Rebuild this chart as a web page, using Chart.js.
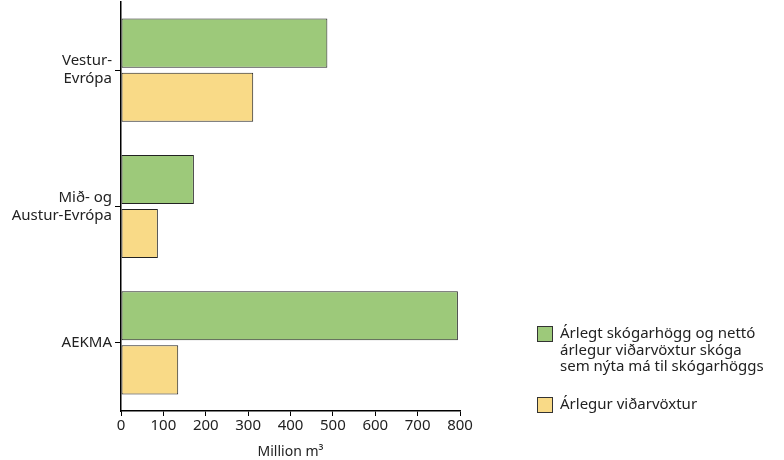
<!DOCTYPE html>
<html>
<head>
<meta charset="utf-8">
<script src="https://cdn.jsdelivr.net/npm/chart.js@4/dist/chart.umd.min.js"></script>
<style>
  body { margin: 0; background: #fff; }
  #wrap { position: relative; width: 784px; height: 460px; }
  #legend { position: absolute; left: 537px; top: 324px; font-family: "Noto Sans", sans-serif; font-size: 15px; color: #222; }
  .item { display: flex; align-items: flex-start; margin-bottom: 21px; }
  .box { width: 16px; height: 16px; border: 1px solid #333; margin-right: 7px; margin-top: 2px; flex: none; box-sizing: border-box; }
  .txt { line-height: 16.5px; }
</style>
</head>
<body>
<div id="wrap">
  <canvas id="myChart" width="784" height="460"></canvas>
  <div id="legend"></div>
</div>
<script>
const categories = [["Vestur-", "Evrópa"], ["Mið- og", "Austur-Evrópa"], "AEKMA"];
const fellings = [487, 172, 795];
const increment = [312, 87, 135];
const seriesNames = [
    ["Árlegt skógarhögg og nettó", "árlegur viðarvöxtur skóga", "sem nýta má til skógarhöggs"],
    ["Árlegur viðarvöxtur"]
];
const xTicks = [0, 100, 200, 300, 400, 500, 600, 700, 800];

const green = '#9dc97a';
const yellow = '#f9da87';

const font = { family: '"Noto Sans", sans-serif', size: 15 };

const data = {
    labels: categories,
    datasets: [{
        label: seriesNames[0].join(' '),
        data: fellings,
        backgroundColor: green,
        borderColor: '#222',
        borderWidth: 1,
        borderSkipped: false,
        categoryPercentage: 0.794,
        barPercentage: 0.907
    }, {
        label: seriesNames[1].join(' '),
        data: increment,
        backgroundColor: yellow,
        borderColor: '#222',
        borderWidth: 1,
        borderSkipped: false,
        categoryPercentage: 0.794,
        barPercentage: 0.907
    }]
};

const ctx = document.getElementById('myChart').getContext('2d');
const myChart = new Chart(ctx, {
    type: 'bar',
    data: data,
    options: {
        indexAxis: 'y',
        responsive: false,
        animation: false,
        layout: { padding: { top: 2, right: 324, left: 0, bottom: 0 } },
        scales: {
            x: {
                min: 0,
                max: 800,
                afterBuildTicks: (s) => { s.ticks = xTicks.map(v => ({ value: v })); },
                afterFit: (s) => { s.height = 49; s.paddingLeft = 0; s.paddingRight = 0; },
                grid: { drawOnChartArea: false, tickLength: 5, color: '#000' },
                border: { color: '#000', width: 1.5 },
                ticks: { color: '#222', font: font, padding: 1 },
                title: {
                    display: true,
                    text: 'Million m³',
                    color: '#222',
                    font: { family: font.family, size: 14 },
                    padding: { top: 0, bottom: 0 }
                }
            },
            y: {
                afterFit: (s) => { s.width = 121; s.paddingTop = 0; s.paddingBottom = 0; },
                grid: { drawOnChartArea: false, offset: false, tickLength: 6, color: '#000' },
                border: { color: '#000', width: 1.5 },
                ticks: { color: '#222', font: font, padding: 3 }
            }
        },
        plugins: {
            legend: { display: false },
            tooltip: { enabled: false }
        }
    }
});

// legend on the right, built from the series names
const legend = document.getElementById('legend');
[green, yellow].forEach((c, i) => {
    const item = document.createElement('div');
    item.className = 'item';
    item.innerHTML = '<div class="box" style="background:' + c + '"></div><div class="txt">' + seriesNames[i].join('<br>') + '</div>';
    legend.appendChild(item);
});
</script>
</body>
</html>
